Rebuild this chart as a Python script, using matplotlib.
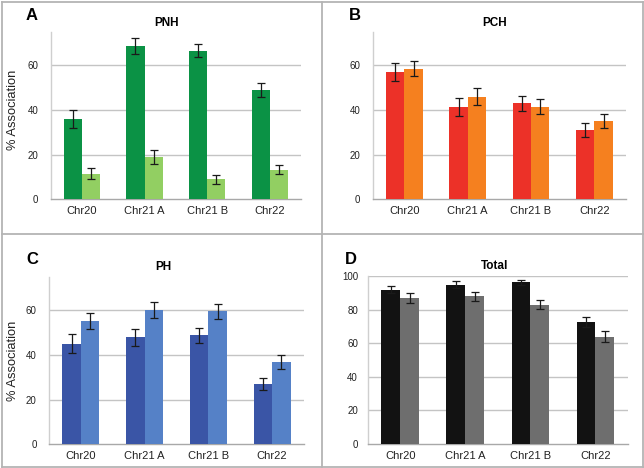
import matplotlib
matplotlib.use("Agg")
import matplotlib.pyplot as plt
from matplotlib.lines import Line2D
import numpy as np

plt.rcParams['font.family'] = ['Liberation Sans', 'DejaVu Sans']

categories = ["Chr20", "Chr21 A", "Chr21 B", "Chr22"]

pnh_dark = [36, 68.5, 66.5, 49]
pnh_dark_err = [4, 3.7, 3, 3]
pnh_light = [11.5, 19, 9, 13.3]
pnh_light_err = [2.5, 3, 2, 2.2]

pch_red = [57, 41.5, 43, 31]
pch_red_err = [4, 4, 3.3, 3]
pch_orange = [58.5, 46, 41.5, 35]
pch_orange_err = [3.5, 3.7, 3.3, 3]

ph_dark = [45, 48, 48.7, 27]
ph_dark_err = [4.2, 3.8, 3.4, 2.7]
ph_light = [55.3, 60, 59.5, 36.8]
ph_light_err = [3.6, 3.6, 3.4, 3]

tot_black = [92, 95, 96.5, 73]
tot_black_err = [2.2, 2, 1.5, 3]
tot_grey = [87, 88, 83, 64]
tot_grey_err = [2.8, 2.6, 2.6, 3.2]

W, H = 644, 468
fig = plt.figure(figsize=(W / 100, H / 100), dpi=100)


def box(l, t, r, b):
    return [l / W, 1 - b / H, (r - l) / W, (b - t) / H]


def panel(rect, s1, e1, s2, e2, c1, c2, title, letter, ylim, yticks,
          letter_xy, title_xy, ylabel_xy=None, ypad=9):
    ax = fig.add_axes(box(*rect))
    x = np.arange(len(categories))
    w = 0.29
    ekw = dict(ecolor="#1a1a1a", elinewidth=0.9, capsize=2.6, capthick=0.9)
    ax.bar(x - w / 2, s1, w, color=c1, yerr=e1, error_kw=ekw, zorder=3)
    ax.bar(x + w / 2, s2, w, color=c2, yerr=e2, error_kw=ekw, zorder=3)
    ax.set_xlim(-0.5, len(categories) - 0.5)
    ax.set_ylim(*ylim)
    ax.set_yticks(yticks)
    ax.set_xticks(x)
    ax.set_xticklabels(categories, fontsize=8, color="#222222")
    ax.tick_params(axis="y", length=0, pad=ypad, labelsize=7, labelcolor="#222222")
    ax.tick_params(axis="x", length=0, pad=5)
    for v in yticks:
        if v > 0:
            ax.axhline(v, color="#c4c4c4", lw=1.0, zorder=1)
    for s in ["top", "right"]:
        ax.spines[s].set_visible(False)
    ax.spines["left"].set_color("#cfcfcf")
    ax.spines["left"].set_linewidth(1.0)
    ax.spines["bottom"].set_color("#a8a8a8")
    ax.spines["bottom"].set_linewidth(1.0)
    fig.text(letter_xy[0] / W, 1 - letter_xy[1] / H, letter, fontsize=12,
             fontweight="bold", ha="center", va="center")
    fig.text(title_xy[0] / W, 1 - title_xy[1] / H, title, fontsize=8.5,
             fontweight="bold", ha="center", va="center")
    if ylabel_xy is not None:
        fig.text(ylabel_xy[0] / W, 1 - ylabel_xy[1] / H, "% Association",
                 fontsize=9.3, rotation=90, ha="center", va="center", color="#222222")
    return ax


panel((50.7, 31.7, 301, 199.3), pnh_dark, pnh_dark_err, pnh_light, pnh_light_err,
      "#0b9245", "#92cf62", "PNH", "A", (0, 75), [0, 20, 40, 60],
      (32, 15), (166.7, 23), ylabel_xy=(12.7, 110))
panel((372.7, 31.7, 626, 199.3), pch_red, pch_red_err, pch_orange, pch_orange_err,
      "#ec3128", "#f5801f", "PCH", "B", (0, 75), [0, 20, 40, 60],
      (355, 15), (495, 23))
panel((49, 276.7, 304, 444.3), ph_dark, ph_dark_err, ph_light, ph_light_err,
      "#3a55a6", "#5581c7", "PH", "C", (0, 75), [0, 20, 40, 60],
      (32, 260), (163, 267), ylabel_xy=(12.7, 360.7))
panel((367.7, 276.3, 628, 444), tot_black, tot_black_err, tot_grey, tot_grey_err,
      "#121212", "#6e6e6e", "Total", "D", (0, 100), [0, 20, 40, 60, 80, 100],
      (351, 259), (495, 266), ypad=7)

# panel borders
bc = "#b4b4b4"
for (x0, y0, x1, y1) in [(1.5, 1.5, 642.5, 1.5), (1.5, 466.5, 642.5, 466.5),
                         (1.5, 1.5, 1.5, 466.5), (642.5, 1.5, 642.5, 466.5),
                         (321.7, 1.5, 321.7, 466.5), (1.5, 234.3, 642.5, 234.3)]:
    fig.add_artist(Line2D([x0 / W, x1 / W], [1 - y0 / H, 1 - y1 / H],
                          color=bc, lw=1.3, transform=fig.transFigure))

fig.savefig("out.png", dpi=100)
